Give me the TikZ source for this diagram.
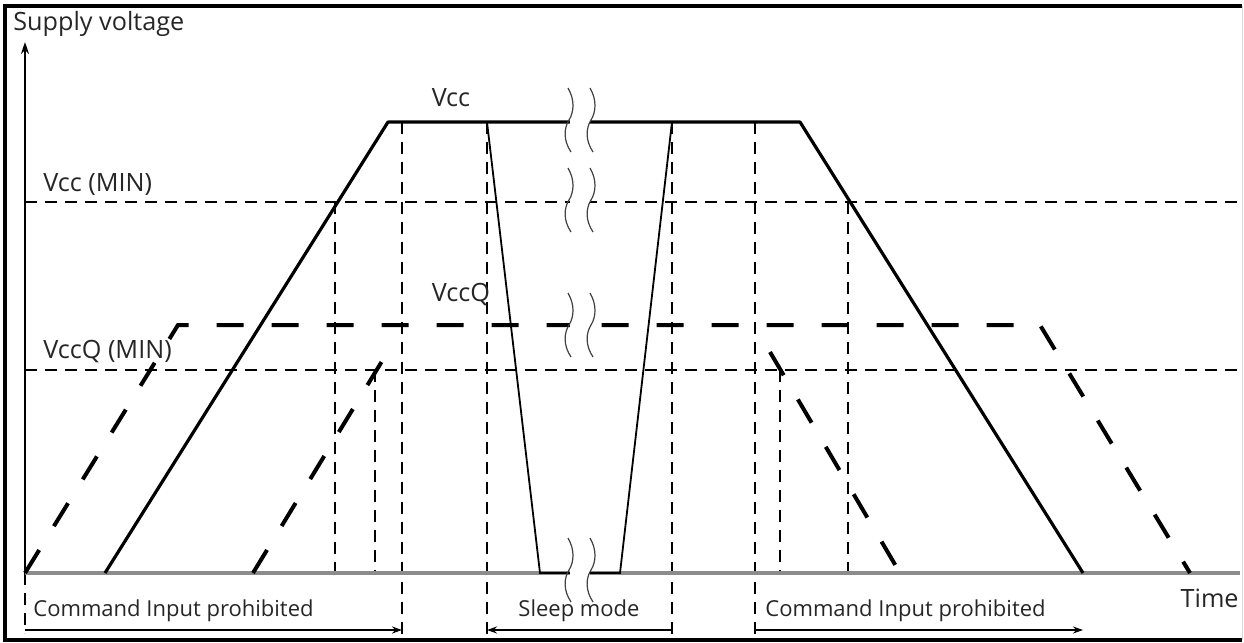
\documentclass[tikz,border=0pt]{standalone}
\usepackage{fontspec}
\setmainfont{Open Sans}
\usetikzlibrary{arrows.meta}

\tikzset{
  supply/.style={line width=1.6pt, line join=round},
  supplyq/.style={line width=2pt, dash pattern=on 13.5pt off 14pt},
  level/.style={line width=1pt, dash pattern=on 6pt off 4pt},
  sleepline/.style={line width=0.9pt},
  span/.style={line width=0.9pt, -{Stealth[length=5pt,width=3.5pt]}},
  breakmark/.pic={\draw[line width=0.6pt, black!75]
    (-1,-32) .. controls (6,-20) and (5,-8) .. (0,0)
    .. controls (-5,8) and (-6,20) .. (2,32);},
  every node/.style={font=\fontsize{12.6}{14}\selectfont, text=black!85, inner sep=0pt},
  spanlabel/.style={font=\fontsize{11}{13}\selectfont}
}

\begin{document}
\begin{tikzpicture}[x=0.5pt,y=-0.5pt]

        \useasboundingbox (0,0) rectangle (1244,643);

        % frame
        \draw[line width=2pt] (1242,6) -- (5,6) -- (5,640) -- (1242,640);
        \draw[line width=0.5pt, black!15] (1242,6) -- (1242,640);

        % named points
        \coordinate (o)    at (25,573);
        \coordinate (ytop) at (25,42);
        \coordinate (xend) at (1240,573);

        \coordinate (c1) at (105,573);
        \coordinate (c2) at (388,122);
        \coordinate (c3) at (800,122);
        \coordinate (c4) at (1083,573);

        \coordinate (q1) at (25,573);
        \coordinate (q2) at (178,325);
        \coordinate (q3) at (1040,325);
        \coordinate (q4) at (1190,573);
        \coordinate (q5) at (253,573);
        \coordinate (q6) at (387,353);
        \coordinate (q7) at (770,352);
        \coordinate (q8) at (900,573);

        \coordinate (s1) at (487,122);
        \coordinate (s2) at (540,573);
        \coordinate (s3) at (620,573);
        \coordinate (s4) at (672,122);

        % levels
        \draw[level] (25,202) -- (1238,202);
        \draw[level] (25,370) -- (1238,370);

        % markers
        \draw[level] (25,573)  -- (25,633);
        \draw[level] (335,202) -- (335,573);
        \draw[level] (375,370) -- (375,573);
        \draw[level] (402,122) -- (402,636);
        \draw[level] (487,122) -- (487,636);
        \draw[level] (672,122) -- (672,636);
        \draw[level] (755,122) -- (755,636);
        \draw[level] (780,370) -- (780,573);
        \draw[level] (848,202) -- (848,573);

        % axes
        \draw[line width=2pt, black!45] (o) -- (xend);
        \draw[line width=0.9pt, -{Stealth[length=6pt,width=4pt]}] (o) -- (ytop);

        % supply curves
        \draw[supply] (c1) -- (c2) -- (c3) -- (c4);
        \draw[supplyq] (q1) -- (q2) -- (q3) -- (q4);
        \draw[supplyq] (q5) -- (q6);
        \draw[supplyq] (q7) -- (q8);
        \draw[sleepline] (s1) -- (s2) -- (s3) -- (s4);

        % breaks
        \foreach \y in {120,200,325,570} {
          \fill[white] (570,\y-30) rectangle (590,\y+30);
          \pic at (569,\y) {breakmark};
          \pic at (591,\y) {breakmark};
        }

        % labels
        \node[anchor=west] (supply) at (13,24)  {Supply voltage};
        \node (vcc)  at (451,98)  {Vcc};
        \node (vccq) at (461,295) {VccQ};
        \node[anchor=west] (vccmin)  at (43,184) {Vcc (MIN)};
        \node[anchor=west] (vccqmin) at (43,352) {VccQ (MIN)};
        \node[anchor=east] (time) at (1239,598) {Time};

        % spans
        \coordinate (a1) at (25,630);
        \coordinate (a2) at (402,630);
        \coordinate (b1) at (487,630);
        \coordinate (b2) at (672,630);
        \coordinate (d1) at (755,630);
        \coordinate (d2) at (1083,630);
        \draw[span] (a1) -- (a2);
        \draw[span, {Stealth[length=5pt,width=3.5pt]}-] (b1) -- (b2);
        \draw[span] (d1) -- (d2);
        \node[spanlabel, anchor=west] (cmd1)  at (33,611)  {Command Input prohibited};
        \node[spanlabel] (sleep) at (579,611) {Sleep mode};
        \node[spanlabel, anchor=west] (cmd2)  at (765,611) {Command Input prohibited};

      \end{tikzpicture}
\end{document}
